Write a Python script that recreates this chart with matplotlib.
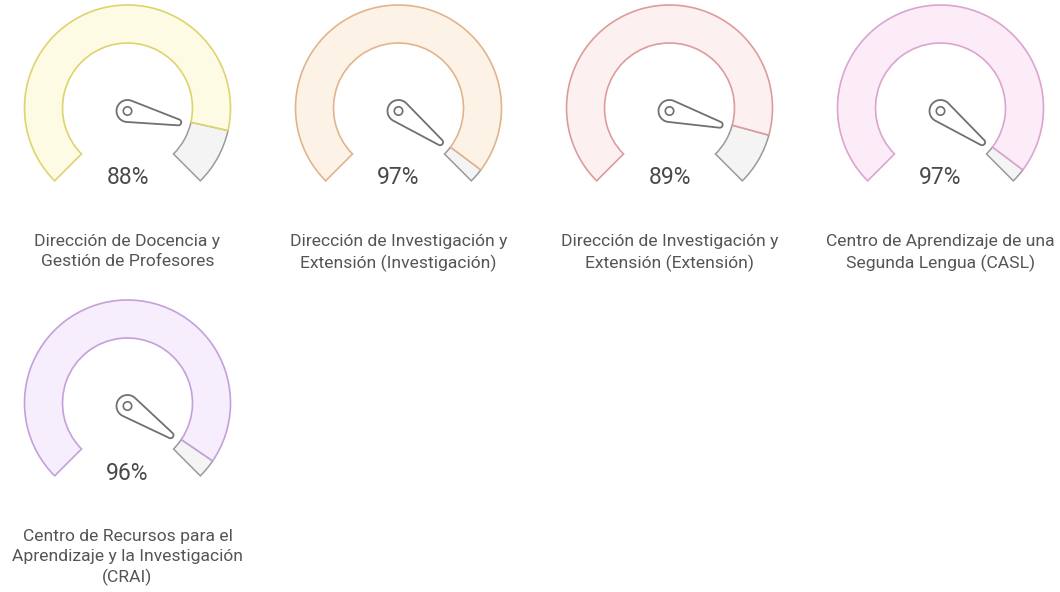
import numpy as np
import matplotlib.pyplot as plt
from matplotlib.patches import Wedge, Polygon, Circle

# Cumplimiento por dependencia (%)
dependencias = [
    "Dirección de Docencia y\nGestión de Profesores",
    "Dirección de Investigación y\nExtensión (Investigación)",
    "Dirección de Investigación y\nExtensión (Extensión)",
    "Centro de Aprendizaje de una\nSegunda Lengua (CASL)",
    "Centro de Recursos para el\nAprendizaje y la Investigación\n(CRAI)",
]
porcentajes = [88, 97, 89, 97, 96]

# colores de relleno y borde de cada medidor
rellenos = ["#fdfbe3", "#fdf2e6", "#fdf0f0", "#fbecf7", "#f6eefc"]
bordes = ["#ddd46e", "#e2b48e", "#dc9c9c", "#dca4cf", "#c4a0dc"]

plt.rcParams['font.family'] = ['Roboto', 'DejaVu Sans']

W, H = 1060, 592
fig = plt.figure(figsize=(W / 100, H / 100), dpi=100)
ax = fig.add_axes([0, 0, 1, 1])
ax.set_xlim(0, W)
ax.set_ylim(0, H)
ax.set_aspect('equal')
ax.axis('off')

R_EXT, ANCHO = 103, 38
INICIO, BARRIDO = 225, 270


def aguja(ax, cx, cy, ang, r1=11, r2=3, largo=52):
    """Dibuja la aguja (contorno) apuntando al ángulo ang (grados)."""
    th = np.arccos((r1 - r2) / largo)
    a1 = np.linspace(th, 2 * np.pi - th, 60)
    a2 = np.linspace(-th, th, 20)
    xs = np.concatenate([r1 * np.cos(a1), largo + r2 * np.cos(a2)])
    ys = np.concatenate([r1 * np.sin(a1), r2 * np.sin(a2)])
    rad = np.deg2rad(ang)
    xr = cx + xs * np.cos(rad) - ys * np.sin(rad)
    yr = cy + xs * np.sin(rad) + ys * np.cos(rad)
    ax.add_patch(Polygon(np.column_stack([xr, yr]), closed=True,
                         facecolor='white', edgecolor='#707070', lw=1.3, zorder=4))
    ax.add_patch(Circle((cx, cy), 4.2, facecolor='white', edgecolor='#707070',
                        lw=1.2, zorder=5))


for i, (nombre, pct) in enumerate(zip(dependencias, porcentajes)):
    fila, col = divmod(i, 4)
    cx = 127.5 + 271 * col
    cy = H - (108 + 295 * fila)
    ang = INICIO - BARRIDO * pct / 100

    ax.add_patch(Wedge((cx, cy), R_EXT, -45, ang, width=ANCHO,
                       facecolor='#f4f4f4', edgecolor='#9a9a9a', lw=1.1, zorder=2))
    ax.add_patch(Wedge((cx, cy), R_EXT, ang, INICIO, width=ANCHO,
                       facecolor=rellenos[i], edgecolor=bordes[i], lw=1.2, zorder=3))

    aguja(ax, cx, cy - 3, ang)

    ax.text(cx, cy - 70, f"{pct}%", ha='center', va='center',
            fontsize=16.5, color='#4a4a4a')
    ax.text(cx, cy - 126, nombre, ha='center', va='top', fontsize=12.6,
            color='#555555', linespacing=1.4)

fig.savefig('out.png', dpi=100, facecolor='white')
